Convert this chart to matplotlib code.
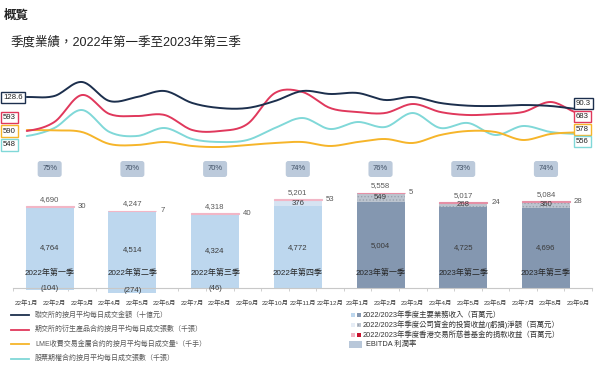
import numpy as np
import matplotlib
matplotlib.use("Agg")
import matplotlib.pyplot as plt
from matplotlib.lines import Line2D
from matplotlib.patches import Rectangle
from matplotlib.transforms import blended_transform_factory

plt.rcParams['font.family'] = ['Liberation Sans', 'Noto Sans CJK TC']
plt.rcParams['hatch.linewidth'] = 0.6

# ---- data ----
months = ['22年%d月' % m for m in range(1, 13)] + ['23年%d月' % m for m in range(1, 10)]

# monthly lines
adt_hkex = [128.6, 131.8, 176.5, 115.8, 128.6, 147.7, 109.5, 93.5, 93.5, 115.8, 147.7,
            138.2, 141.4, 119.0, 128.6, 109.5, 100.9, 99.9, 103.0, 99.9, 90.3]
adv_deriv = [593, 638, 773, 678, 668, 673, 598, 593, 628, 783, 788,
             708, 688, 683, 728, 688, 673, 678, 688, 738, 683]
adv_lme = [590, 588, 580, 520, 515, 530, 510, 505, 515, 525, 530,
           510, 530, 545, 525, 565, 585, 580, 540, 570, 578]
adv_options = [548, 580, 652, 564, 548, 580, 536, 524, 532, 580, 620,
               576, 604, 584, 640, 580, 600, 552, 588, 564, 556]

# quarterly bars
quarters = ['2022年第一季', '2022年第二季', '2022年第三季', '2022年第四季',
            '2023年第一季', '2023年第二季', '2023年第三季']
core_rev = [4764, 4514, 4324, 4772, 5004, 4725, 4696]
inv_income = [-104, -274, -46, 376, 549, 268, 360]
donation = [30, 7, 40, 53, 5, 24, 28]
total_rev = [4690, 4247, 4318, 5201, 5558, 5017, 5084]
ebitda = [75, 70, 70, 74, 76, 73, 74]

# ---- styles ----
navy, red, orange, cyan = '#1c2f4d', '#e0385c', '#f6b52a', '#80d8d8'
c22, c23 = '#bdd7ee', '#8497b0'
inv22, inv23 = '#d6e3f2', '#bcc4cf'
don22, don23 = '#f2b6c6', '#e58fa5'
txt_gray = '#595959'

W, H = 602, 374
fig = plt.figure(figsize=(W / 100, H / 100), dpi=100)


def fx(px):
    return px / W


def fy(py):
    return 1 - py / H


def smooth(y, n=16):
    # catmull-rom curve through the monthly points (for drawing only)
    y = np.asarray(y, float)
    p = np.concatenate([[y[0]], y, [y[-1]]])
    xs, ys = [], []
    t = np.linspace(0, 1, n, endpoint=False)
    for i in range(len(y) - 1):
        p0, p1, p2, p3 = p[i], p[i + 1], p[i + 2], p[i + 3]
        ys.append(0.5 * (2 * p1 + (-p0 + p2) * t + (2 * p0 - 5 * p1 + 4 * p2 - p3) * t ** 2
                         + (-p0 + 3 * p1 - 3 * p2 + p3) * t ** 3))
        xs.append(i + t)
    xs.append([len(y) - 1])
    ys.append([y[-1]])
    return np.concatenate(xs), np.concatenate(ys)


# titles
fig.text(fx(4), fy(16), '概覧', fontsize=9, fontweight='bold', va='center', color='#222222')
fig.text(fx(11), fy(42), '季度業績，2022年第一季至2023年第三季', fontsize=9, va='center',
         color='#222222')

x_left, x_right = 13, 592
xlim = (-0.5, len(months) - 0.5)

# ---- bar axes ----
axb = fig.add_axes([fx(x_left), fy(296), fx(x_right - x_left), (296 - 180) / H])
axb.set_xlim(*xlim)
axb.set_ylim(-468, 6316)
xq = np.arange(len(quarters)) * 3 + 1 - 0.17
bw = 1.74
main_col = [c22 if q.startswith('2022') else c23 for q in quarters]
inv_col = [inv22 if q.startswith('2022') else inv23 for q in quarters]
don_col = [don22 if q.startswith('2022') else don23 for q in quarters]
hatch = ['' if q.startswith('2022') else '.....' for q in quarters]

axb.bar(xq, core_rev, bw, color=main_col, linewidth=0, zorder=2)
inv_bottom = [c if v > 0 else 0 for c, v in zip(core_rev, inv_income)]
for i in range(len(quarters)):
    axb.bar(xq[i], inv_income[i], bw, bottom=inv_bottom[i],
            color=inv_col[i] if inv_income[i] > 0 else main_col[i],
            hatch=hatch[i] if inv_income[i] > 0 else '', edgecolor='#9aa3ae',
            linewidth=0, zorder=2)
don_bottom = [c + max(v, 0) for c, v in zip(core_rev, inv_income)]
axb.bar(xq, donation, bw, bottom=don_bottom, color=don_col, edgecolor=don_col,
        linewidth=0.8, zorder=3)

for i in range(len(quarters)):
    top = don_bottom[i] + donation[i]
    axb.annotate('{:,}'.format(total_rev[i]), (xq[i], top), xytext=(0, 2.5),
                 textcoords='offset points', ha='center', va='bottom', fontsize=5.6,
                 color=txt_gray)
    axb.annotate(str(donation[i]), (xq[i] + bw / 2, top), xytext=(3, 0),
                 textcoords='offset points', ha='left', va='center', fontsize=5.6,
                 color=txt_gray)
    axb.text(xq[i], core_rev[i] / 2, '{:,}'.format(core_rev[i]), ha='center', va='center',
             fontsize=5.6, color='#3a3a3a')
    axb.text(xq[i], 880, quarters[i], ha='center', va='center', fontsize=5.8, color='#262626')
    if inv_income[i] < 0:
        axb.text(xq[i], inv_income[i] / 2, '(%d)' % -inv_income[i], ha='center',
                 va='center', fontsize=5.6, color='#3a3a3a', zorder=4)
    else:
        axb.text(xq[i], core_rev[i] + inv_income[i] / 2, str(inv_income[i]), ha='center',
                 va='center', fontsize=5.6, color='#3a3a3a', zorder=4)

# ebitda margin boxes
tr = blended_transform_factory(axb.transData, fig.transFigure)
for i in range(len(quarters)):
    axb.text(xq[i], fy(169), '%d%%' % ebitda[i], transform=tr, ha='center', va='center',
             fontsize=5.4, color='#3d4d62', clip_on=False,
             bbox=dict(boxstyle='round,pad=0.6,rounding_size=0.35', fc='#bccadb', ec='none'))

axb.spines[['top', 'right', 'left']].set_visible(False)
axb.spines['bottom'].set_position(('data', 0))
axb.spines['bottom'].set_color('#c8c8c8')
axb.spines['bottom'].set_linewidth(0.8)
axb.set_yticks([])
axb.set_xticks(np.arange(len(months)))
axb.set_xticklabels(months, fontsize=4.6, color='#404040')
axb.tick_params(axis='x', which='major', length=0, pad=8.5)
axb.set_xticks(np.arange(len(months) + 1) - 0.5, minor=True)
axb.tick_params(axis='x', which='minor', length=2.5, color='#c8c8c8', direction='out')
axb.patch.set_alpha(0)

# ---- line axes, one per series with its own scale ----
series = [
    (adt_hkex, navy, (-120.2, 214.7)),
    (adv_deriv, red, (373, 898)),
    (adv_lme, orange, (365, 890)),
    (adv_options, cyan, (392, 812)),
]
for k, (vals, col, lim) in enumerate(series[::-1]):
    axl = fig.add_axes([fx(x_left), fy(175), fx(x_right - x_left), 105 / H], label='l%d' % k)
    xs, ys = smooth(vals)
    axl.plot(xs, ys, color=col, lw=1.4, solid_capstyle='round')
    axl.set_xlim(*xlim)
    axl.set_ylim(*lim)
    axl.axis('off')

# start / end value boxes
left_y = [97.5, 117.5, 131, 145]
right_y = [103.5, 116.5, 129.5, 141.5]
for (vals, col, lim), ly, ry in zip(series, left_y, right_y):
    for xpx, ypx, v in ((3, ly, vals[0]), (576, ry, vals[-1])):
        fig.text(fx(xpx), fy(ypx), '%g' % v, ha='left', va='center', fontsize=5.6,
                 color='#222222', bbox=dict(boxstyle='square,pad=0.3', fc='white', ec=col,
                                            lw=1.0))

# ---- legends ----
left_items = [
    (navy, '聯交所的按月平均每日成交金額（十億元）'),
    (red, '期交所的衍生產品合約按月平均每日成交張數（千張）'),
    (orange, 'LME收費交易金屬合約的按月平均每日成交量¹（千手）'),
    (cyan, '股票期權合約按月平均每日成交張數（千張）'),
]
for j, (col, lab) in enumerate(left_items):
    y = 315 + j * 14.5
    fig.add_artist(Line2D([fx(11), fx(29)], [fy(y), fy(y)], color=col, lw=1.3))
    fig.text(fx(35), fy(y), lab, fontsize=5, va='center', color=txt_gray)

right_items = [
    ((c22, ''), (c23, ''), '2022/2023年季度主要業務收入（百萬元）'),
    (('#e6edf6', ''), (inv23, '....'), '2022/2023年季度公司資金的投資收益/(虧損)淨額（百萬元）'),
    ((don22, ''), ('#c8102e', ''), '2022/2023年季度香港交易所慈善基金的捐款收益（百萬元）'),
]
for j, (a, b, lab) in enumerate(right_items):
    y = 314.5 + j * 10
    for xpx, (col, hat) in ((351, a), (357, b)):
        fig.add_artist(Rectangle((fx(xpx), fy(y + 2)), fx(4), 4 / H, fc=col, ec='#9aa3ae',
                                 lw=0, hatch=hat, transform=fig.transFigure))
    fig.text(fx(363), fy(y), lab, fontsize=5.3, va='center', color='#333333')
fig.add_artist(Rectangle((fx(349), fy(347.5)), fx(13), 7 / H, fc='#b8c7d9', ec='none',
                         transform=fig.transFigure))
fig.text(fx(366), fy(344), 'EBITDA 利潤率', fontsize=5.3, va='center', color='#333333')

fig.savefig('out.png', dpi=100)
